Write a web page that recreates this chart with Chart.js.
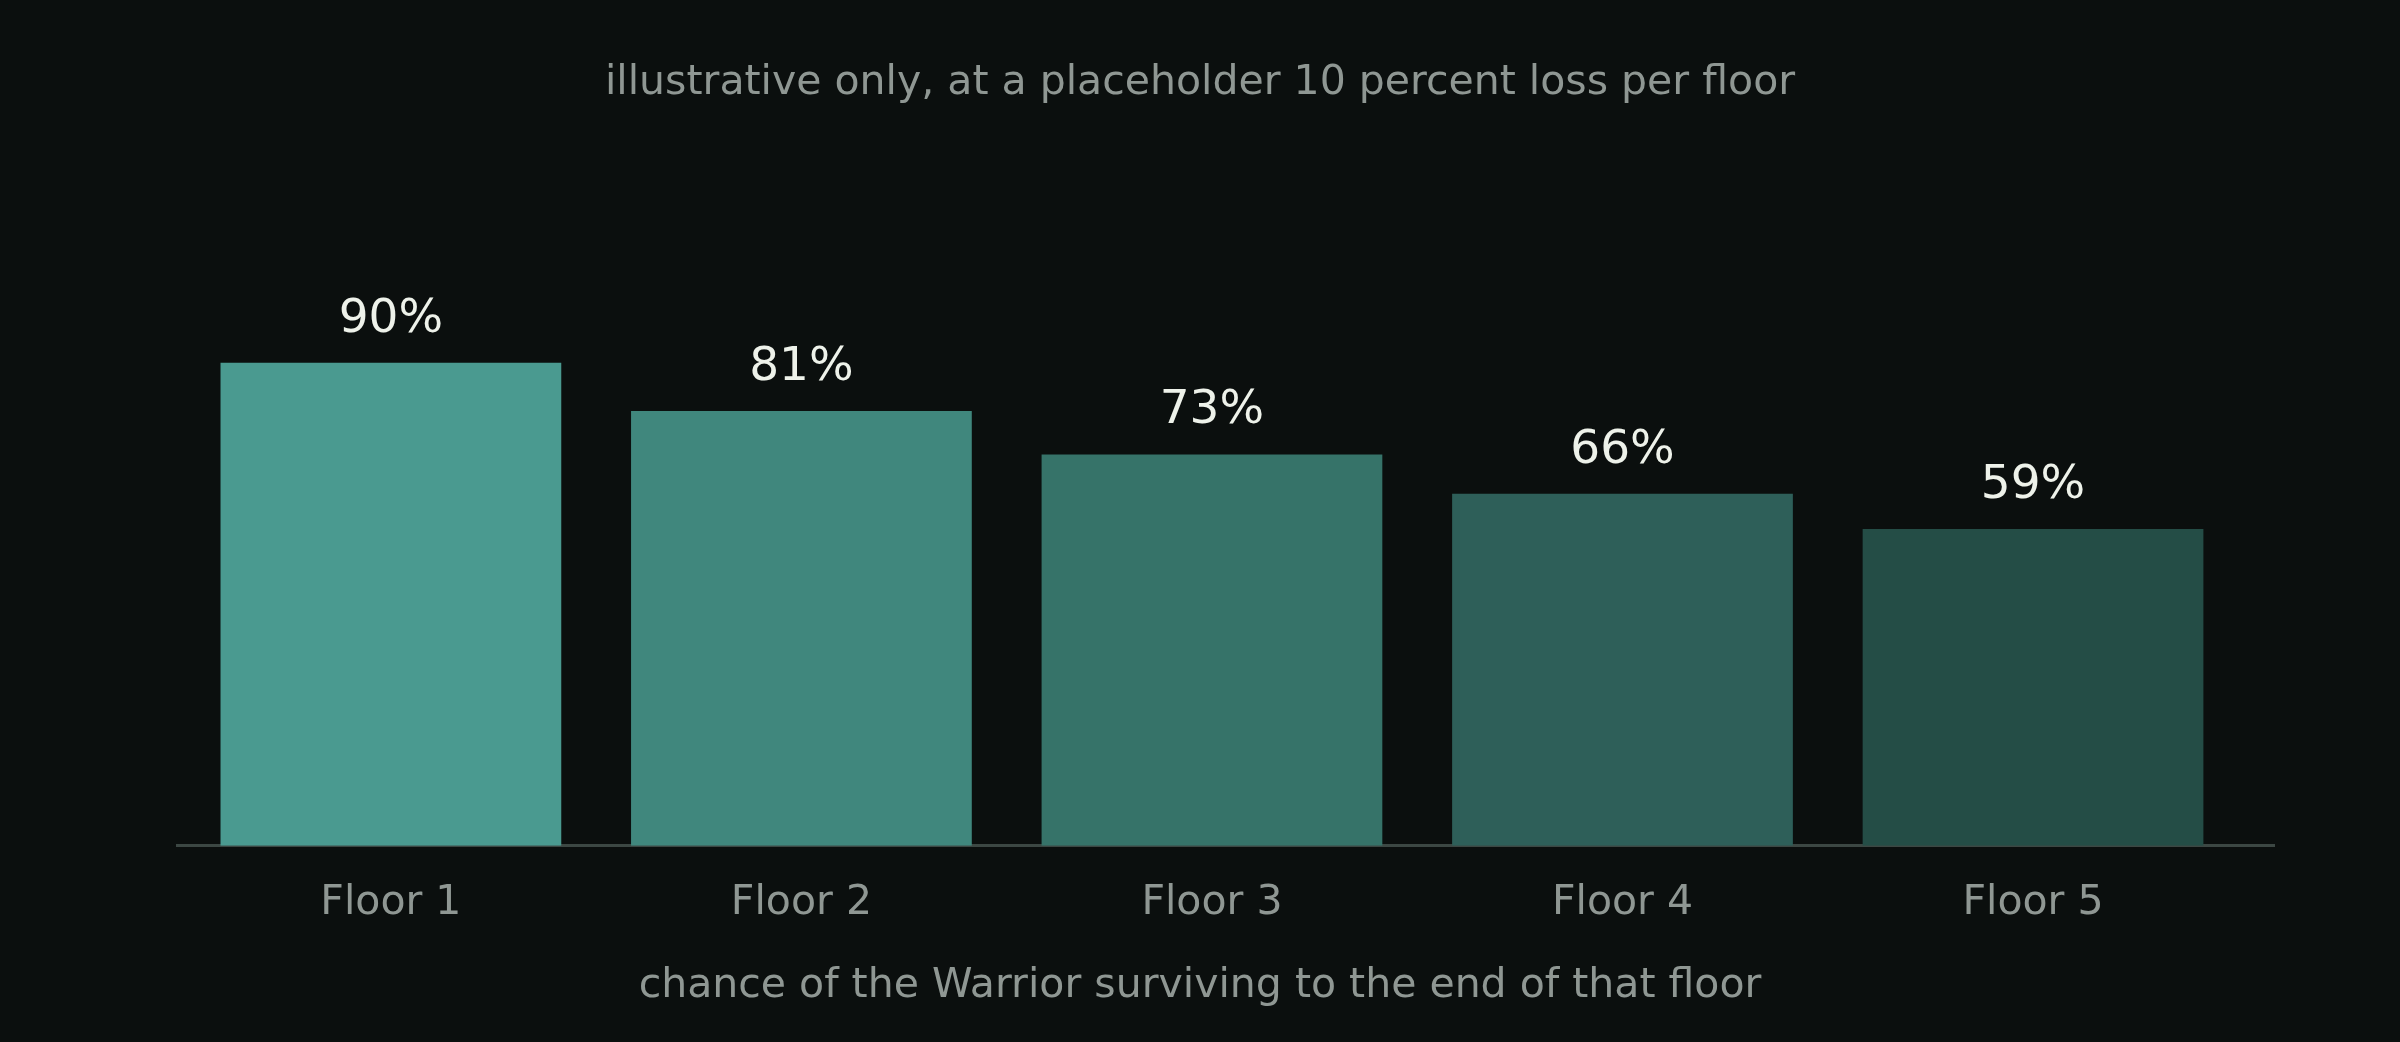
<!DOCTYPE html>
<html>
<head>
<meta charset="utf-8">
<title>Warrior survival per floor</title>
<script src="https://cdn.jsdelivr.net/npm/chart.js@4.4.1/dist/chart.umd.min.js"></script>
<style>
  html, body { margin: 0; padding: 0; background: #0b0f0e; }
  #wrap { width: 2400px; height: 1042px; }
</style>
</head>
<body>
<div id="wrap"><canvas id="survivalChart" width="2400" height="1042"></canvas></div>
<script>
const floors = ["Floor 1", "Floor 2", "Floor 3", "Floor 4", "Floor 5"];
const survival = [90, 81, 72.9, 65.6, 59.0];
const barColors = ["#4a9a90", "#40877d", "#367369", "#2e5f59", "#244d46"];

const titleText = "illustrative only, at a placeholder 10 percent loss per floor";
const axisText = "chance of the Warrior surviving to the end of that floor";

const FONT = "'DejaVu Sans', 'Noto Sans', sans-serif";
const GREY = "#8f9793";

// percent labels over each bar + the two captions centred on the canvas
const labelsPlugin = {
  id: "labels",
  afterDatasetsDraw(chart) {
    const ctx = chart.ctx;
    const meta = chart.getDatasetMeta(0);
    ctx.save();
    ctx.font = "47px " + FONT;
    ctx.fillStyle = "#eef2ea";
    ctx.textAlign = "center";
    ctx.textBaseline = "alphabetic";
    meta.data.forEach((bar, i) => {
      ctx.fillText(Math.round(survival[i]) + "%", bar.x, bar.y - 31);
    });
    ctx.restore();
  },
  afterDraw(chart) {
    const ctx = chart.ctx;
    const mid = chart.width / 2;
    ctx.save();
    ctx.font = "41px " + FONT;
    ctx.fillStyle = GREY;
    ctx.textAlign = "center";
    ctx.textBaseline = "alphabetic";
    ctx.fillText(titleText, mid, 94);
    ctx.fillText(axisText, mid, 997);
    ctx.restore();
  },
};

const chartSurvival = new Chart(document.getElementById("survivalChart"), {
  type: "bar",
  data: {
    datasets: [
      {
        data: survival.map((v, i) => ({ x: i + 1, y: v })),
        backgroundColor: barColors,
        borderWidth: 0,
        barPercentage: 0.83,
        categoryPercentage: 1,
      },
    ],
  },
  options: {
    responsive: false,
    animation: false,
    devicePixelRatio: 1,
    layout: { padding: { top: 309, left: 177, right: 126, bottom: 81 } },
    plugins: {
      legend: { display: false },
      tooltip: { enabled: false },
      title: { display: false },
    },
    scales: {
      x: {
        type: "linear",
        offset: false,
        min: 0.479,
        max: 5.587,
        afterBuildTicks: (scale) => {
          scale.ticks = floors.map((_, i) => ({ value: i + 1 }));
        },
        ticks: {
          callback: (value) => floors[value - 1],
          color: GREY,
          font: { family: FONT, size: 41 },
          padding: 33,
          maxRotation: 0,
          autoSkip: false,
        },
        grid: { display: true, offset: false, drawOnChartArea: false, drawTicks: false, color: "rgba(0,0,0,0)" },
        border: { display: true, color: "#3c4743", width: 3 },
      },
      y: {
        display: false,
        min: 0,
        max: 100,
      },
    },
  },
  plugins: [labelsPlugin],
});
</script>
</body>
</html>
